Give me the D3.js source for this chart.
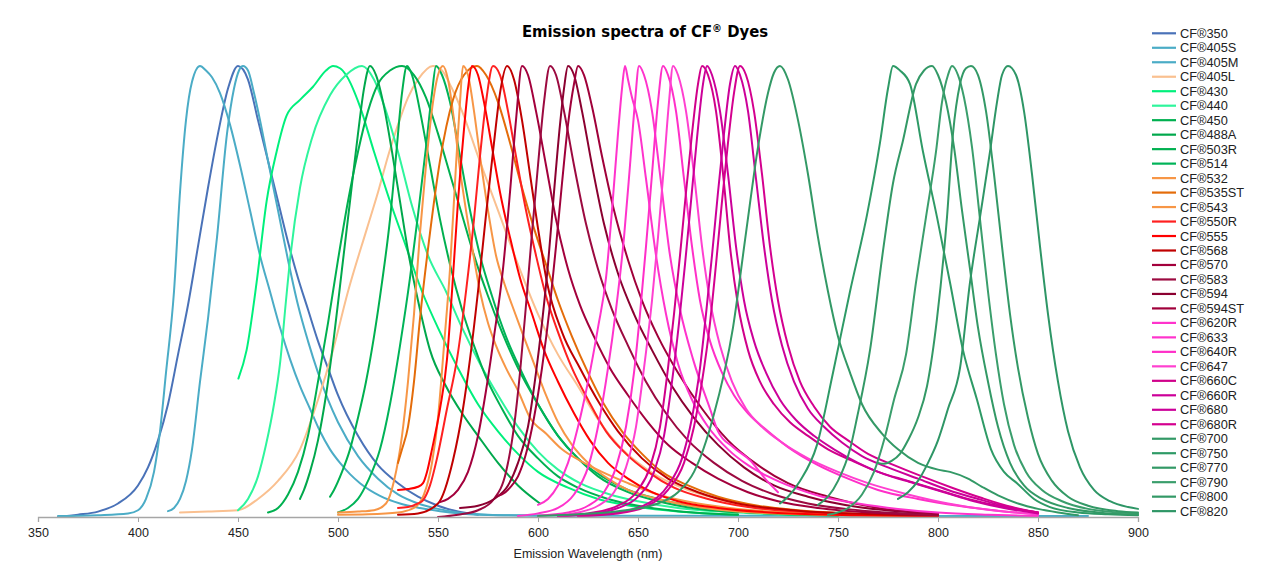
<!DOCTYPE html>
<html><head><meta charset="utf-8">
<script src="https://cdn.jsdelivr.net/npm/d3@7"></script>
<style>body{margin:0;background:#fff;} svg{display:block}</style>
</head><body><svg id="c" width="1271" height="567"></svg>
<script>
const dyeNames = ["CF®350","CF®405S","CF®405M","CF®405L","CF®430","CF®440","CF®450","CF®488A","CF®503R","CF®514","CF®532","CF®535ST","CF®543","CF®550R","CF®555","CF®568","CF®570","CF®583","CF®594","CF®594ST","CF®620R","CF®633","CF®640R","CF®647","CF®660C","CF®660R","CF®680","CF®680R","CF®700","CF®750","CF®770","CF®790","CF®800","CF®820"];
const dyeColors = ["#4a72b8","#4bacc6","#4bacc6","#fac090","#00f07c","#2ef59c","#00b050","#00a84c","#00b050","#00b358","#f79646","#e46c0a","#f79646","#ff2020","#ff0000","#c00000","#a3003c","#9c0a40","#8b0030","#a0003a","#ff33cc","#ff33cc","#ff2fc8","#ff40d0","#d0008a","#cc0099","#cc0099","#d4008f","#339966","#2e9a66","#339966","#3a9e6c","#339966","#2e9666"];

// [wavelength nm, normalized emission]
const CF350 = [[360,0],[370,0.005],[380,0.012],[390,0.03],[400,0.07],[405,0.11],[410,0.17],[415,0.25],[420,0.36],[425,0.47],[430,0.6],[435,0.73],[440,0.85],[445,0.95],[450,1.0],[455,0.97],[460,0.88],[465,0.79],[470,0.7],[475,0.61],[480,0.53],[485,0.46],[490,0.39],[495,0.33],[500,0.27],[510,0.18],[520,0.115],[530,0.075],[540,0.045],[550,0.025],[560,0.012],[570,0.005]];
const CF405S = [[360,0.002],[380,0.004],[395,0.008],[400,0.015],[404,0.04],[408,0.1],[411,0.19],[414,0.32],[418,0.5],[421,0.72],[424,0.88],[427,0.965],[431,1.0],[434,0.99],[437,0.975],[441,0.94],[446,0.87],[451,0.78],[456,0.68],[461,0.58],[466,0.5],[471,0.42],[476,0.35],[481,0.29],[486,0.24],[491,0.19],[496,0.15],[501,0.12],[506,0.095],[511,0.075],[521,0.047],[531,0.03],[541,0.02],[551,0.013],[561,0.008],[580,0.004],[620,0.003],[700,0.003],[800,0.002],[875,0.002]];
const CF405M = [[415,0.013],[418,0.02],[421,0.04],[424,0.08],[427,0.15],[431,0.3],[435,0.44],[439.5,0.62],[444.5,0.85],[448,0.95],[450.5,0.99],[452.5,1.0],[455,0.99],[458,0.94],[461,0.88],[465,0.79],[470,0.68],[475,0.57],[480,0.47],[485,0.39],[490,0.32],[495,0.26],[500,0.21],[510,0.135],[520,0.085],[530,0.05],[540,0.03],[550,0.018],[560,0.01],[575,0.005],[600,0.003]];
const CF405L = [[421,0.01],[435,0.012],[450,0.015],[460,0.04],[470,0.08],[481,0.15],[490,0.26],[497.5,0.37],[505,0.5],[514.5,0.64],[520,0.72],[525,0.8],[530,0.87],[535,0.93],[540,0.97],[547.5,1.0],[552,0.99],[557,0.95],[562,0.9],[570,0.8],[580,0.68],[590,0.56],[600,0.45],[610,0.36],[620,0.29],[631,0.21],[640,0.16],[650,0.12],[660,0.09],[675,0.06],[690,0.04],[710,0.02],[730,0.012],[750,0.006],[800,0.002]];
const CF430 = [[450.2,0.307],[454.3,0.37],[459.3,0.52],[464.3,0.7],[469.3,0.81],[474.3,0.89],[481,0.925],[487.5,0.954],[494,0.99],[497.5,1.0],[501,0.995],[504,0.98],[511,0.91],[518,0.81],[526,0.7],[534,0.6],[542,0.5],[551,0.41],[560,0.33],[570,0.25],[580,0.19],[590,0.14],[600,0.1],[615,0.065],[630,0.04],[650,0.022],[670,0.012],[700,0.005]];
const CF440 = [[450,0.015],[455,0.04],[460,0.09],[464,0.16],[468,0.25],[471,0.34],[474,0.48],[476,0.57],[481,0.73],[487,0.84],[496,0.935],[504,0.98],[512,1.0],[518,0.97],[524,0.9],[530,0.81],[537,0.69],[545,0.58],[554,0.5],[562,0.42],[571,0.34],[580,0.27],[590,0.2],[600,0.145],[610,0.105],[621,0.075],[636,0.05],[650,0.035],[670,0.02],[700,0.01],[730,0.004]];
const CF450 = [[465,0.01],[470,0.02],[475,0.05],[480,0.1],[485,0.18],[490,0.3],[495,0.43],[500,0.57],[505,0.7],[510,0.81],[515,0.9],[520,0.96],[526,0.99],[532,1.0],[538,0.98],[544,0.93],[550,0.85],[556,0.76],[562,0.67],[568,0.58],[575,0.49],[582,0.41],[590,0.33],[600,0.25],[610,0.18],[620,0.13],[630,0.09],[645,0.055],[660,0.035],[680,0.018],[700,0.01]];
const CF488A = [[481,0.04],[483,0.06],[486,0.1],[490,0.17],[494,0.27],[498,0.4],[502,0.55],[506,0.7],[510,0.85],[513,0.95],[516,1.0],[519,0.98],[523,0.91],[527,0.81],[531,0.7],[535,0.59],[540,0.48],[546,0.37],[554,0.29],[562,0.23],[570,0.18],[580,0.12],[590,0.07],[601,0.03]];
const CF503R = [[496,0.045],[498,0.06],[502,0.1],[506,0.15],[510,0.22],[514,0.3],[518,0.4],[522,0.52],[526,0.66],[529,0.8],[532,0.94],[534.5,1.0],[537,0.98],[541,0.9],[546,0.78],[551,0.66],[556,0.56],[562,0.46],[568,0.38],[575,0.3],[582,0.24],[590,0.18],[600,0.13],[610,0.09],[620,0.065],[635,0.04],[650,0.025],[670,0.013],[700,0.005]];
const CF514 = [[500,0.01],[505,0.02],[510,0.04],[515,0.08],[521,0.15],[526,0.25],[531,0.38],[536,0.53],[540,0.67],[544,0.82],[547,0.94],[549,1.0],[552,0.98],[556,0.92],[561,0.8],[566,0.68],[571,0.58],[577,0.49],[584,0.4],[592,0.32],[600,0.25],[610,0.18],[620,0.13],[632,0.09],[645,0.06],[660,0.04],[680,0.022],[700,0.012],[730,0.005],[750,0.003]];
const CF532 = [[500,0.01],[510,0.012],[518,0.015],[524,0.03],[528,0.08],[532,0.18],[535,0.3],[538,0.45],[541,0.63],[544,0.78],[547.5,0.92],[550,0.98],[552.5,1.0],[555,0.97],[558,0.88],[561,0.77],[564,0.68],[567,0.6],[571,0.5],[575,0.43],[579,0.38],[584,0.33],[590,0.28],[596,0.22],[604,0.185],[612,0.15],[621,0.125],[632,0.1],[645,0.075],[660,0.05],[680,0.03],[700,0.018],[740,0.007],[800,0.002]];
const CF535ST = [[530,0.12],[532,0.15],[535,0.2],[538,0.3],[541,0.44],[546,0.63],[551,0.79],[557.5,0.925],[563,0.98],[569.5,1.0],[574,0.98],[580,0.92],[586,0.83],[592,0.73],[598,0.64],[604,0.56],[610,0.48],[617,0.4],[625,0.32],[633,0.25],[642,0.19],[652,0.14],[662,0.1],[675,0.07],[690,0.045],[710,0.025],[730,0.015],[760,0.007],[800,0.003]];
const CF543 = [[500,0.005],[515,0.006],[530,0.01],[538,0.02],[543,0.05],[547,0.12],[550,0.22],[553,0.38],[556,0.55],[559,0.78],[561,0.92],[562.5,1.0],[565,0.98],[568,0.9],[571,0.8],[575,0.68],[579,0.58],[583,0.52],[587,0.47],[592,0.41],[598,0.34],[604,0.27],[610,0.21],[617,0.16],[625,0.12],[635,0.085],[645,0.06],[660,0.04],[680,0.022],[700,0.012],[740,0.005],[800,0.002]];
const CF550R = [[530,0.02],[535,0.022],[540,0.03],[542.5,0.037],[546,0.07],[549.5,0.13],[554.5,0.24],[559.5,0.35],[564,0.5],[568,0.66],[571,0.8],[574,0.92],[577.5,1.0],[581,0.98],[585,0.9],[589,0.8],[594,0.68],[599,0.58],[604,0.49],[610,0.41],[617,0.33],[625,0.26],[634,0.19],[644,0.14],[655,0.1],[668,0.065],[685,0.04],[705,0.022],[730,0.012],[760,0.006],[800,0.003]];
const CF555 = [[530,0.06],[535,0.062],[540,0.067],[542.5,0.075],[544.5,0.1],[547,0.15],[551,0.24],[554.5,0.35],[557,0.5],[560,0.7],[563,0.86],[565,0.95],[567,1.0],[570,0.98],[573,0.92],[577,0.82],[581,0.72],[586,0.62],[591,0.53],[597,0.45],[603,0.37],[610,0.3],[618,0.23],[626,0.17],[635,0.12],[645,0.085],[657,0.055],[670,0.035],[690,0.02],[720,0.009],[760,0.004],[800,0.002]];
const CF568 = [[530,0.005],[540,0.008],[550,0.03],[557.5,0.126],[562.5,0.24],[566,0.35],[570,0.5],[574,0.67],[578,0.83],[581,0.94],[584.5,1.0],[588,0.97],[592,0.88],[596,0.76],[600,0.64],[604.5,0.52],[612,0.41],[621,0.33],[631,0.25],[640,0.19],[652,0.13],[665,0.085],[680,0.055],[700,0.03],[730,0.014],[770,0.006],[800,0.003]];
const CF570 = [[551,0.033],[555,0.04],[560,0.06],[565,0.1],[570,0.18],[574,0.28],[578,0.4],[582.5,0.55],[586,0.72],[589,0.88],[592,1.0],[595,0.98],[599,0.9],[604,0.78],[609,0.66],[615,0.55],[621,0.47],[628,0.4],[636,0.33],[645,0.27],[655,0.21],[665,0.16],[677,0.12],[690,0.085],[705,0.055],[720,0.035],[740,0.02],[770,0.009],[800,0.004]];
const CF583 = [[550,0],[560,0.005],[570,0.015],[578,0.04],[584,0.1],[588,0.2],[591,0.32],[594,0.47],[597,0.63],[600,0.78],[603,0.92],[606,1.0],[609,0.98],[613,0.9],[618,0.78],[624,0.65],[630,0.55],[637,0.46],[645,0.38],[654,0.3],[664,0.23],[675,0.17],[688,0.12],[702,0.08],[718,0.05],[735,0.03],[760,0.015],[800,0.005]];
const CF594 = [[561,0.02],[570,0.025],[578,0.04],[585,0.07],[590,0.12],[595,0.2],[599,0.32],[602,0.43],[605,0.56],[608,0.72],[611,0.87],[613,0.95],[615,1.0],[618,0.98],[622,0.9],[627,0.78],[633,0.65],[640,0.54],[648,0.45],[657,0.37],[667,0.29],[678,0.22],[690,0.16],[703,0.11],[718,0.07],[735,0.045],[760,0.022],[800,0.008]];
const CF594ST = [[580,0.047],[582,0.05],[586,0.065],[590,0.09],[594,0.14],[598,0.22],[602,0.33],[606,0.47],[609,0.6],[612,0.74],[615,0.87],[618,0.96],[620,1.0],[623,0.98],[627,0.91],[632,0.8],[638,0.68],[645,0.57],[652,0.48],[660,0.4],[670,0.32],[682,0.24],[695,0.17],[710,0.115],[725,0.075],[745,0.045],[770,0.02],[800,0.008]];
const CF620R = [[600,0.027],[605,0.04],[610,0.07],[615,0.12],[620,0.2],[625,0.3],[630,0.42],[634,0.53],[637,0.68],[640,0.85],[642,0.95],[643.5,1.0],[645,0.97],[647,0.93],[650,0.88],[654,0.75],[659,0.58],[664,0.45],[670,0.34],[677,0.26],[685,0.2],[695,0.15],[705,0.115],[715,0.09],[728,0.065],[742,0.045],[760,0.03],[780,0.018],[800,0.01],[825,0.005],[850,0.002]];
const CF633 = [[590,0.002],[600,0.008],[610,0.02],[618,0.05],[625,0.11],[630,0.2],[635,0.33],[639,0.46],[643,0.62],[646,0.78],[648.5,0.92],[650.5,1.0],[653,0.98],[657,0.9],[661,0.76],[666,0.58],[671,0.46],[677.5,0.35],[686,0.24],[690,0.19],[697.5,0.155],[706,0.126],[714.5,0.08],[720,0.055]];
const CF640R = [[600,0.003],[615,0.01],[625,0.025],[633,0.055],[639,0.11],[644,0.2],[648,0.32],[651,0.45],[654,0.6],[657,0.76],[660,0.92],[662.5,1.0],[665,0.98],[669,0.9],[673,0.75],[677,0.6],[681,0.48],[686,0.39],[692,0.32],[698,0.27],[705,0.23],[715,0.19],[725,0.155],[740,0.115],[755,0.085],[770,0.06],[790,0.04],[810,0.025],[830,0.014],[850,0.006]];
const CF647 = [[610,0.003],[620,0.01],[630,0.025],[638,0.055],[644,0.11],[649,0.2],[653,0.33],[657,0.48],[660,0.62],[663,0.78],[665.5,0.92],[667.5,1.0],[670,0.98],[674,0.9],[678,0.76],[682,0.6],[686,0.48],[691,0.38],[697,0.3],[704,0.24],[712,0.2],[722,0.165],[735,0.13],[750,0.1],[765,0.075],[785,0.05],[805,0.03],[825,0.016],[850,0.006]];
const CF660C = [[610,0.002],[625,0.008],[640,0.025],[650,0.06],[656,0.11],[661,0.2],[665,0.33],[668,0.45],[671,0.58],[674,0.72],[677,0.85],[680,0.96],[682,1.0],[685,0.98],[689,0.9],[693,0.74],[696,0.6],[700,0.47],[705,0.37],[711,0.3],[718,0.25],[726,0.21],[735,0.18],[745,0.15],[757,0.125],[770,0.1],[785,0.08],[800,0.06],[815,0.04],[830,0.025],[850,0.01]];
const CF660R = [[610,0.002],[625,0.006],[640,0.02],[650,0.045],[658,0.1],[663,0.18],[667,0.3],[670.5,0.43],[673.5,0.56],[676.5,0.7],[679.5,0.84],[682.5,0.96],[684.5,1.0],[687,0.98],[691,0.9],[695,0.76],[699,0.6],[703,0.48],[708,0.39],[714,0.32],[721,0.26],[729,0.215],[738,0.18],[748,0.15],[760,0.12],[773,0.095],[788,0.075],[803,0.055],[818,0.035],[833,0.02],[850,0.008]];
const CF680 = [[620,0.003],[640,0.01],[655,0.03],[665,0.07],[672,0.13],[677,0.22],[681,0.33],[684,0.45],[687,0.58],[690,0.72],[693,0.85],[696,0.96],[698.5,1.0],[701,0.98],[705,0.9],[709,0.75],[713,0.6],[717,0.48],[722,0.38],[728,0.3],[735,0.24],[743,0.2],[752,0.165],[762,0.135],[775,0.11],[790,0.085],[805,0.06],[820,0.04],[835,0.022],[850,0.01]];
const CF680R = [[620,0.002],[640,0.008],[655,0.025],[665,0.06],[673,0.12],[678,0.2],[682,0.3],[686,0.43],[689,0.56],[692,0.7],[695,0.83],[698,0.94],[701,1.0],[704,0.98],[708,0.9],[712,0.76],[716,0.6],[720,0.48],[725,0.38],[731,0.3],[738,0.245],[746,0.2],[755,0.17],[765,0.14],[778,0.115],[792,0.09],[807,0.065],[822,0.042],[837,0.022],[850,0.01]];
const CF700 = [[600,0.002],[620,0.006],[640,0.013],[660,0.03],[670,0.055],[678,0.1],[687.5,0.22],[697.5,0.42],[704,0.63],[710,0.82],[715,0.94],[718,0.985],[721,1.0],[725,0.97],[730,0.88],[735,0.76],[740,0.62],[745,0.5],[750,0.4],[756,0.32],[762,0.25],[772,0.185],[780,0.15],[790,0.12],[800,0.105],[806,0.1],[815,0.085],[822,0.067],[830,0.048],[840,0.03],[850,0.018],[860,0.01],[870,0.004]];
const CF750 = [[721,0.03],[725,0.045],[731,0.08],[739.5,0.16],[747.5,0.32],[756,0.5],[764.5,0.67],[771,0.83],[775,0.95],[777.5,1.0],[781,0.99],[786,0.96],[792.5,0.81],[799.5,0.665],[806,0.52],[812.5,0.37],[819.5,0.26],[826.5,0.15],[833,0.1],[839.5,0.075],[848,0.04],[856,0.022],[870,0.01],[885,0.006],[900,0.004]];
const CF770 = [[740,0.027],[745,0.045],[750,0.08],[756,0.15],[759.5,0.22],[766,0.37],[772.5,0.59],[777.5,0.74],[782.5,0.835],[789,0.96],[793,0.99],[797,1.0],[800,0.98],[804,0.92],[808,0.82],[812,0.68],[816,0.55],[820,0.42],[825,0.3],[830,0.2],[836,0.12],[843,0.07],[852,0.04],[865,0.02],[880,0.01],[900,0.005]];
const CF790 = [[745,0.005],[755,0.02],[762,0.05],[768,0.1],[773,0.17],[778,0.26],[784,0.36],[789,0.52],[794,0.665],[799,0.81],[802,0.92],[805,0.98],[807,1.0],[810,0.98],[813,0.93],[817,0.82],[821,0.66],[825,0.5],[829,0.36],[833,0.25],[838,0.16],[844,0.1],[852,0.06],[862,0.035],[875,0.018],[890,0.01],[900,0.008]];
const CF800 = [[770,0.12],[773,0.118],[777,0.125],[781,0.14],[785,0.17],[790,0.22],[794.5,0.29],[799.5,0.44],[804.5,0.665],[807.5,0.85],[811,0.96],[814,0.995],[816.5,1.0],[820,0.98],[824,0.9],[828,0.76],[832,0.6],[836,0.45],[840,0.33],[845,0.22],[850,0.14],[857,0.08],[865,0.045],[875,0.025],[890,0.013],[900,0.01]];
const CF820 = [[780,0.04],[785,0.055],[790,0.08],[795,0.12],[800,0.17],[805,0.24],[811,0.33],[816,0.52],[821,0.665],[826,0.81],[829.5,0.92],[832,0.98],[835,1.0],[839,0.98],[843,0.9],[847,0.76],[851,0.6],[855,0.45],[860,0.3],[865,0.19],[871,0.11],[878,0.06],[886,0.035],[895,0.022],[900,0.018]];

const dyeSeries = [CF350,CF405S,CF405M,CF405L,CF430,CF440,CF450,CF488A,CF503R,CF514,CF532,CF535ST,CF543,CF550R,CF555,CF568,CF570,CF583,CF594,CF594ST,CF620R,CF633,CF640R,CF647,CF660C,CF660R,CF680,CF680R,CF700,CF750,CF770,CF790,CF800,CF820];
const xTickValues = [350,400,450,500,550,600,650,700,750,800,850,900];
const titleParts = ["Emission spectra of CF", "®", " Dyes"];
const xAxisTitle = "Emission Wavelength (nm)";

const svg = d3.select("#c");
const x = d3.scaleLinear().domain([350, 900]).range([38, 1138]);
const y = d3.scaleLinear().domain([0, 1]).range([517, 66]);

const line = d3.line().x(d => x(d[0])).y(d => y(d[1])).curve(d3.curveMonotoneX);
const g = svg.append("g");
dyeSeries.forEach((s, i) => {
  g.append("path").attr("d", line(s)).attr("fill", "none")
    .attr("stroke", dyeColors[i]).attr("stroke-width", 2)
    .attr("stroke-linejoin", "round").attr("stroke-linecap", "round");
});

const axis = d3.axisBottom(x).tickValues(xTickValues).tickSize(5).tickPadding(6).tickFormat(d3.format("d"));
const ax = svg.append("g").attr("transform", "translate(0,517)").call(axis);
ax.select(".domain").attr("stroke", "#a6a6a6").attr("stroke-width", 1.3);
ax.selectAll(".tick line").attr("stroke", "#a6a6a6");
ax.selectAll(".tick text").attr("font-family", "Liberation Sans, Arial, sans-serif").attr("font-size", 12.5).attr("fill", "#222");

svg.append("text").attr("x", 588).attr("y", 558).attr("text-anchor", "middle")
  .attr("font-family", "Liberation Sans, Arial, sans-serif").attr("font-size", 12.5).attr("fill", "#222").text(xAxisTitle);

const t = svg.append("text").attr("x", 645).attr("y", 37).attr("text-anchor", "middle")
  .attr("font-family", "DejaVu Sans Condensed, Liberation Sans Narrow, sans-serif").attr("font-weight", "bold")
  .attr("font-size", 16.5).attr("fill", "#000");
t.append("tspan").text(titleParts[0]);
t.append("tspan").attr("font-size", 11).attr("dy", -5).text(titleParts[1]);
t.append("tspan").attr("dy", 5).text(titleParts[2]);

const lg = svg.append("g");
dyeNames.forEach((n, i) => {
  const cy = 33.3 + i * 14.48;
  lg.append("line").attr("x1", 1152).attr("x2", 1176).attr("y1", cy).attr("y2", cy)
    .attr("stroke", dyeColors[i]).attr("stroke-width", 2.2);
  lg.append("text").attr("x", 1180).attr("y", cy + 4.5)
    .attr("font-family", "Liberation Sans, Arial, sans-serif").attr("font-size", 12.8).attr("fill", "#222").text(n);
});
</script></body></html>
